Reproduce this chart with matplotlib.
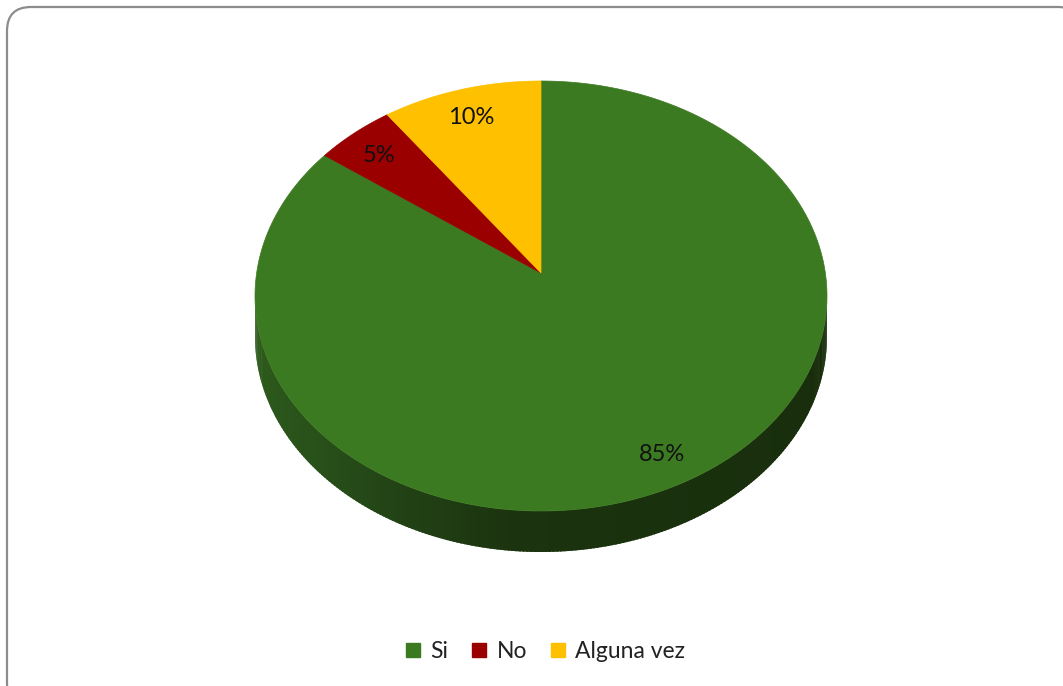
import numpy as np
import matplotlib.pyplot as plt
from matplotlib.patches import Polygon, FancyBboxPatch
from matplotlib.lines import Line2D

labels = ["Si", "No", "Alguna vez"]
values = [85, 5, 10]
colors = ["#3c7a22", "#9a0000", "#ffc000"]

# geometry of the 3d pie (pixels)
cx, cy = 541, 296
rx, ry = 286, 215
depth = 41
b = 0.107  # perspective shift of the centre


def proj(t, r=1.0):
    u = r * np.cos(np.radians(t))
    v = r * np.sin(np.radians(t))
    u2 = u * np.sqrt(1 - b * b) / (1 + b * v)
    v2 = (v + b) / (1 + b * v)
    return cx + rx * u2, cy - ry * v2


fig = plt.figure(figsize=(10.63, 6.86), dpi=100)
ax = fig.add_axes([0, 0, 1, 1])
ax.set_xlim(0, 1063)
ax.set_ylim(686, 0)
ax.axis("off")

ax.add_patch(FancyBboxPatch((7, 7), 1075, 700, boxstyle="round,pad=0,rounding_size=24",
                            fc="white", ec="#8c8c8c", lw=1.6))

# side wall (front half of the ellipse)
side_cols = [(180, "#2f5e1c"), (220, "#28501a"), (265, "#1b330f"), (360, "#172c0b")]
angs = np.array([a for a, _ in side_cols])
rgb = np.array([plt.matplotlib.colors.to_rgb(c) for _, c in side_cols])
th = np.linspace(180, 360, 241)
for i in range(len(th) - 1):
    t0, t1 = th[i], min(th[i + 1] + 0.5, 360)
    x0, y0 = cx + rx * np.cos(np.radians(t0)), cy - ry * np.sin(np.radians(t0))
    x1, y1 = cx + rx * np.cos(np.radians(t1)), cy - ry * np.sin(np.radians(t1))
    tm = (th[i] + th[i + 1]) / 2
    col = [np.interp(tm, angs, rgb[:, k]) for k in range(3)]
    ax.add_patch(Polygon([(x0, y0), (x1, y1), (x1, y1 + depth), (x0, y0 + depth)],
                         closed=True, fc=col, ec="none", lw=0))

# top face
fracs = np.array(values) / sum(values)
start = 90.0
for lab, f, c in zip(labels, fracs, colors):
    end = start - f * 360
    ts = np.linspace(start, end, max(int(f * 400), 4))
    pts = [proj(0, 0)] + [proj(t) for t in ts]
    ax.add_patch(Polygon(pts, closed=True, fc=c, ec=c, lw=0.5))
    mx, my = proj((start + end) / 2, 0.86)
    ax.text(mx, my + 4, f"{round(f * 100)}%", ha="center", va="center",
            fontsize=17, family="Lato", color="#111111")
    start = end

handles = [Line2D([], [], marker="s", ls="", color=c, markersize=10) for c in colors]
fig.legend(handles, labels, loc="center", bbox_to_anchor=(0.513, 1 - 652 / 686), ncol=3,
           frameon=False, handlelength=0.7, handletextpad=0.4, columnspacing=1.0,
           prop={"family": "Lato", "size": 16.5}, labelcolor="#222222")

fig.savefig("out.png", dpi=100)
